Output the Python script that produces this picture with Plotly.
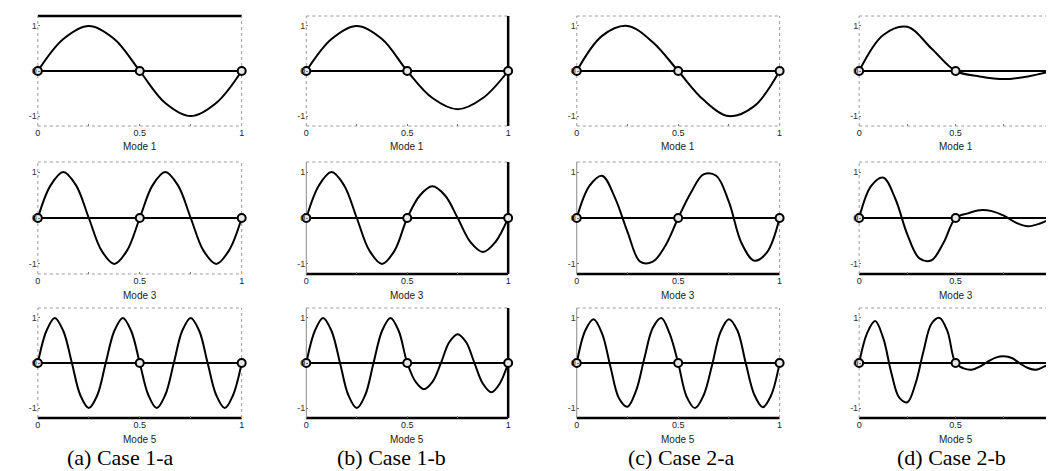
import plotly.graph_objects as go

W, H = 1054, 471

# beam length normalised to 1, supports at both ends and in the middle
SUPPORTS = [0, 0.5, 1]

X_MODE1 = [0, 0.125, 0.25, 0.375, 0.5, 0.625, 0.75, 0.875, 1]
X_MODE3 = [0, 0.0625, 0.125, 0.1875, 0.25, 0.3125, 0.375, 0.4375, 0.5,
           0.5625, 0.625, 0.6875, 0.75, 0.8125, 0.875, 0.9375, 1]
X_MODE5 = [0, 0.042, 0.083, 0.125, 0.167, 0.208, 0.25, 0.292, 0.333, 0.375,
           0.417, 0.458, 0.5, 0.542, 0.583, 0.625, 0.667, 0.708, 0.75, 0.792,
           0.833, 0.875, 0.917, 0.958, 1]

# case 1-a
C1A_M1 = [0, 0.71, 1, 0.71, 0, -0.71, -1, -0.71, 0]
C1A_M3 = [0, 0.71, 1, 0.71, 0, -0.71, -1, -0.71, 0, 0.71, 1, 0.71, 0, -0.71, -1, -0.71, 0]
C1A_M5 = [0, 0.71, 1, 0.71, 0, -0.71, -1, -0.71, 0, 0.71, 1, 0.71, 0,
          -0.71, -1, -0.71, 0, 0.71, 1, 0.71, 0, -0.71, -1, -0.71, 0]
# case 1-b
C1B_M1 = [0, 0.71, 1, 0.71, 0, -0.6, -0.85, -0.6, 0]
C1B_M3 = [0, 0.71, 1, 0.71, 0, -0.71, -1, -0.71, 0, 0.49, 0.69, 0.49, 0, -0.52, -0.74, -0.52, 0]
C1B_M5 = [0, 0.71, 1, 0.71, 0, -0.71, -1, -0.71, 0, 0.71, 1, 0.71, 0,
          -0.42, -0.58, -0.42, 0, 0.46, 0.64, 0.46, 0, -0.46, -0.65, -0.46, 0]
# case 2-a
C2A_M1 = [0, 0.78, 1, 0.64, 0, -0.64, -1, -0.78, 0]
C2A_M3 = [0, 0.7, 0.92, 0.45, -0.3, -0.95, -0.95, -0.6, 0, 0.55, 0.95, 0.92, 0.35, -0.55, -0.93, -0.75, 0]
C2A_M5 = [0, 0.72, 0.97, 0.65, -0.1, -0.78, -0.97, -0.62, 0.1, 0.78, 1, 0.65, 0,
          -0.75, -1, -0.72, -0.05, 0.68, 0.97, 0.72, 0, -0.7, -0.98, -0.72, 0]
# case 2-b
C2B_M1 = [0, 0.8, 0.98, 0.5, 0, -0.12, -0.18, -0.12, 0]
C2B_M3 = [0, 0.7, 0.88, 0.42, -0.36, -0.88, -0.92, -0.54, 0, 0.1, 0.17, 0.15, 0.05, -0.1, -0.18, -0.12, 0]
C2B_M5 = [0, 0.67, 0.93, 0.55, -0.22, -0.77, -0.87, -0.46, 0.25, 0.87, 1, 0.7, 0,
          -0.12, -0.15, -0.08, 0.03, 0.12, 0.15, 0.11, -0.01, -0.11, -0.15, -0.08, 0]

CASES = ["(a) Case 1-a", "(b) Case 1-b", "(c) Case 2-a", "(d) Case 2-b"]
MODES = ["Mode 1", "Mode 3", "Mode 5"]
X_GRIDS = [X_MODE1, X_MODE3, X_MODE5]
SHAPES_Y = [
    [C1A_M1, C1B_M1, C2A_M1, C2B_M1],
    [C1A_M3, C1B_M3, C2A_M3, C2B_M3],
    [C1A_M5, C1B_M5, C2A_M5, C2B_M5],
]

# pixel boxes of the panels
COL_PX = [(27, 232), (297, 500), (569, 773), (853, 1047)]
ROW_PX = [(8, 118), (154, 266), (300, 410)]
CAPTION_X = [110, 383, 674, 946]


def px_x(p):
    return p / W


def px_y(p):
    return 1 - p / H


fig = go.Figure()
layout = {}
shapes = []
annotations = []

for r in range(3):
    for c in range(4):
        n = r * 4 + c + 1
        xa = "x" if n == 1 else f"x{n}"
        ya = "y" if n == 1 else f"y{n}"
        xkey = "xaxis" if n == 1 else f"xaxis{n}"
        ykey = "yaxis" if n == 1 else f"yaxis{n}"
        x0, x1 = COL_PX[c]
        y0, y1 = ROW_PX[r]

        layout[xkey] = dict(domain=[px_x(x0), px_x(x1)], range=[0, 1], anchor=ya,
                            showgrid=False, zeroline=False, showline=False,
                            tickmode="array", tickvals=[0, 0.25, 0.5, 0.75, 1],
                            ticktext=["0", "", "0.5", "", "1"],
                            ticks="inside", ticklen=2, tickcolor="#777",
                            tickfont=dict(size=9, color="#222", family="Liberation Sans"),
                            fixedrange=True)
        layout[ykey] = dict(domain=[px_y(y1), px_y(y0)], range=[-1.22, 1.22], anchor=xa,
                            showgrid=False, zeroline=False, showline=False,
                            tickmode="array", tickvals=[-1, 0, 1],
                            ticktext=["-1", "0", "1"],
                            ticks="inside", ticklen=2, tickcolor="#777",
                            tickfont=dict(size=9, color="#333", family="Liberation Sans"),
                            fixedrange=True)

        # panel frame, mostly faint dotted like the scan
        dom_x = f"{xa} domain"
        dom_y = f"{ya} domain"
        dotted = dict(color="#9a9a9a", width=1, dash="dot")
        solid = dict(color="black", width=2.5)
        thin = dict(color="#888", width=1)
        top = solid if (r == 0 and c == 0) else dotted
        bottom = solid if (r == 2 or (r == 1 and c > 0)) else dotted
        left = thin if (r > 0 and c in (1, 2)) else dotted
        right = solid if c == 1 else dotted
        for (a, b, cc, d, ln) in [(0, 1, 1, 1, top), (0, 1, 0, 0, bottom),
                                  (0, 0, 0, 1, left), (1, 1, 0, 1, right)]:
            shapes.append(dict(type="line", xref=dom_x, yref=dom_y,
                               x0=a, x1=b, y0=cc, y1=d, line=ln, layer="below"))

        # undeformed beam
        fig.add_trace(go.Scatter(x=[SUPPORTS[0], SUPPORTS[-1]], y=[0, 0], mode="lines",
                                 line=dict(color="black", width=2.2),
                                 xaxis=xa, yaxis=ya, showlegend=False, hoverinfo="skip"))
        # mode shape
        fig.add_trace(go.Scatter(x=X_GRIDS[r], y=SHAPES_Y[r][c], mode="lines",
                                 line=dict(color="black", width=2, shape="spline", smoothing=1.0),
                                 xaxis=xa, yaxis=ya, showlegend=False, cliponaxis=False))
        # supports
        fig.add_trace(go.Scatter(x=SUPPORTS, y=[0, 0, 0], mode="markers",
                                 marker=dict(symbol="circle", size=8, color="#e8e8e8",
                                             line=dict(color="black", width=2)),
                                 xaxis=xa, yaxis=ya, showlegend=False, cliponaxis=False))

        annotations.append(dict(text=MODES[r], xref="paper", yref="paper",
                                x=px_x((x0 + x1) / 2), y=px_y(y1 + 21),
                                showarrow=False, xanchor="center", yanchor="middle",
                                font=dict(size=10, color="#222", family="Liberation Sans")))

for c in range(4):
    annotations.append(dict(text=CASES[c], xref="paper", yref="paper",
                            x=px_x(CAPTION_X[c]), y=px_y(449),
                            showarrow=False, xanchor="center", yanchor="middle",
                            font=dict(size=22, color="black", family="Liberation Serif")))

fig.update_layout(width=W, height=H, margin=dict(l=0, r=0, t=0, b=0),
                  paper_bgcolor="white", plot_bgcolor="white",
                  shapes=shapes, annotations=annotations, **layout)

fig.write_html("out.html")
